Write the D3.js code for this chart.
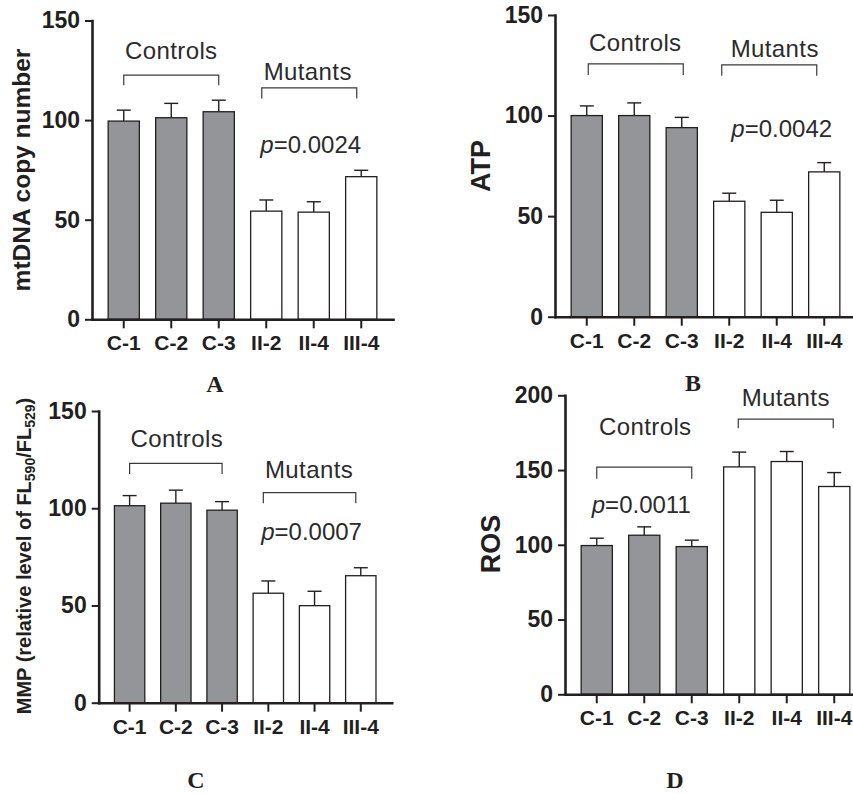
<!DOCTYPE html>
<html>
<head>
<meta charset="utf-8">
<script src="https://cdn.jsdelivr.net/npm/d3@7"></script>
<style>
  body { margin: 0; background: #fff; }
  svg { display: block; }
</style>
</head>
<body>
<div id="chart"></div>
<script>
const width = 853;
const height = 794;

// categories
const groups = ["C-1", "C-2", "C-3", "II-2", "II-4", "III-4"];
const controlGroups = ["C-1", "C-2", "C-3"];

// A: mtDNA copy number (mean, +SD)
const mtdnaMean = [99.5, 101.2, 104.2, 54.3, 53.8, 71.6];
const mtdnaErr  = [5.5, 7.2, 5.8, 5.6, 5.2, 3.2];
// B: ATP
const atpMean = [100, 100, 94, 57.4, 51.9, 72];
const atpErr  = [4.8, 6.3, 5.1, 4.0, 6.0, 4.6];
// C: MMP
const mmpMean = [101.3, 102.6, 99, 56.3, 49.9, 65.3];
const mmpErr  = [5.2, 6.7, 4.4, 6.3, 7.4, 4.1];
// D: ROS
const rosMean = [99.5, 106.4, 98.8, 152.1, 155.7, 139];
const rosErr  = [4.9, 5.6, 4.3, 9.9, 6.7, 9.3];

const pValues = ["0.0024", "0.0042", "0.0007", "0.0011"];

const grayFill = "#939598";
const ink = "#231f20";

const svg = d3.select("#chart").append("svg")
  .attr("width", width)
  .attr("height", height)
  .style("font-family", "Arial, 'Liberation Sans', sans-serif");

// panel layout (pixels) and annotation positions (data units)
const panels = [
  { mean: mtdnaMean, err: mtdnaErr, left: 92, right: 393, bottom: 319.3, top: 20.5, max: 150,
    title: "mtDNA copy number", titleX: 30, titleY: 170, titleSize: 24.5,
    letter: "A", letterX: 215, letterY: 392,
    ctrl: { text: 130.6, top: 122.6, leg: 117.5, dx: 0, tdx: 0 },
    mut:  { text: 120.1, top: 116.2, leg: 110.9, dx: -4.5, tdx: -6 },
    p: { y: 83.3, side: "mut", dx: -3 } },
  { mean: atpMean, err: atpErr, left: 555, right: 856, bottom: 316.7, top: 15, max: 150,
    title: "ATP", titleX: 490, titleY: 166, titleSize: 27,
    letter: "B", letterX: 693, letterY: 391,
    ctrl: { text: 132.3, top: 125.7, leg: 120.2, dx: 1.5, tdx: 1 },
    mut:  { text: 129.3, top: 125.2, leg: 119.8, dx: -7.5, tdx: -2 },
    p: { y: 89.5, side: "mut", dx: 5 } },
  { mean: mmpMean, err: mmpErr, left: 98.7, right: 391.7, bottom: 702.7, top: 411, max: 150,
    title: "MMP", titleX: 31, titleY: 556, titleSize: 20,
    letter: "C", letterX: 196, letterY: 788,
    ctrl: { text: 131.4, top: 123.1, leg: 117.6, dx: 0, tdx: 1 },
    mut:  { text: 115.4, top: 108, leg: 102.6, dx: -5, tdx: -5.5 },
    p: { y: 83.7, side: "mut", dx: -3 } },
  { mean: rosMean, err: rosErr, left: 565, right: 866, bottom: 694.3, top: 395.3, max: 200,
    title: "ROS", titleX: 500, titleY: 544, titleSize: 27,
    letter: "D", letterX: 675, letterY: 788,
    ctrl: { text: 173.6, top: 151.9, leg: 144.1, dx: 0, tdx: 1 },
    mut:  { text: 193, top: 184.1, leg: 178, dx: -1, tdx: -1 },
    p: { y: 121.2, side: "ctrl", dx: -3 } }
];

panels.forEach(function (pn, i) {
  const g = svg.append("g");

  const x = d3.scaleBand()
    .domain(groups)
    .range([pn.left, pn.right])
    .paddingInner(0.343)
    .paddingOuter(0.34);

  const y = d3.scaleLinear()
    .domain([0, pn.max])
    .range([pn.bottom, pn.top]);

  const rows = groups.map(function (k, j) {
    return { name: k, mean: pn.mean[j], err: pn.err[j] };
  });

  // error bars (upper only, drawn before the bars)
  const eb = g.append("g").selectAll("g").data(rows).enter().append("g");
  eb.append("line")
    .attr("x1", d => x(d.name) + x.bandwidth() / 2)
    .attr("x2", d => x(d.name) + x.bandwidth() / 2)
    .attr("y1", d => y(d.mean))
    .attr("y2", d => y(d.mean + d.err))
    .attr("stroke", ink).attr("stroke-width", 1.4);
  eb.append("line")
    .attr("x1", d => x(d.name) + x.bandwidth() / 2 - 7)
    .attr("x2", d => x(d.name) + x.bandwidth() / 2 + 7)
    .attr("y1", d => y(d.mean + d.err))
    .attr("y2", d => y(d.mean + d.err))
    .attr("stroke", ink).attr("stroke-width", 1.4);

  // bars
  g.append("g").selectAll("rect").data(rows).enter().append("rect")
    .attr("x", d => x(d.name))
    .attr("y", d => y(d.mean))
    .attr("width", x.bandwidth())
    .attr("height", d => y(0) - y(d.mean))
    .attr("fill", d => controlGroups.includes(d.name) ? grayFill : "#ffffff")
    .attr("stroke", ink)
    .attr("stroke-width", 1.3);

  // axes
  const yAxis = g.append("g")
    .attr("transform", "translate(" + pn.left + ",0)")
    .call(d3.axisLeft(y).tickValues(d3.range(0, pn.max + 1, 50)).tickSize(7).tickSizeOuter(0).tickPadding(5));
  const xAxis = g.append("g")
    .attr("transform", "translate(0," + pn.bottom + ")")
    .call(d3.axisBottom(x).tickSize(9).tickSizeOuter(0).tickPadding(7));

  [yAxis, xAxis].forEach(function (ax) {
    ax.select(".domain").attr("stroke", ink).attr("stroke-width", 2.6).attr("stroke-linecap", "square");
    ax.selectAll(".tick line").attr("stroke", ink).attr("stroke-width", 2);
    ax.selectAll("text").attr("fill", ink).style("font-weight", "bold")
      .style("font-family", "Arial, 'Liberation Sans', sans-serif");
  });
  yAxis.selectAll("text").style("font-size", "23px");
  xAxis.selectAll("text").style("font-size", "21px");

  // y-axis title
  const t = g.append("text")
    .attr("transform", "translate(" + pn.titleX + "," + pn.titleY + ") rotate(-90)")
    .attr("text-anchor", "middle")
    .attr("fill", ink)
    .style("font-weight", "bold")
    .style("font-size", pn.titleSize + "px");
  if (pn.title === "MMP") {
    t.append("tspan").text("MMP (relative level of FL");
    t.append("tspan").text("590").style("font-size", "14px").attr("dy", 4);
    t.append("tspan").text("/FL").attr("dy", -4);
    t.append("tspan").text("529").style("font-size", "14px").attr("dy", 4);
    t.append("tspan").text(")").attr("dy", -4);
  } else {
    t.text(pn.title);
  }

  // brackets + group labels
  function bracket(cfg, first, last, label) {
    const x1 = x(first) + x.bandwidth() / 2 + cfg.dx;
    const x2 = x(last) + x.bandwidth() / 2 + cfg.dx;
    g.append("path")
      .attr("d", "M" + x1 + "," + y(cfg.leg) + "V" + y(cfg.top) + "H" + x2 + "V" + y(cfg.leg))
      .attr("fill", "none")
      .attr("stroke", "#3a3a3a")
      .attr("stroke-width", 1.2);
    g.append("text")
      .attr("x", (x(first) + x(last) + x.bandwidth()) / 2 + cfg.tdx)
      .attr("y", y(cfg.text))
      .attr("text-anchor", "middle")
      .attr("fill", "#2b2b2b")
      .style("font-size", "24px")
      .style("letter-spacing", "0.4px")
      .text(label);
  }
  bracket(pn.ctrl, "C-1", "C-3", "Controls");
  bracket(pn.mut, "II-2", "III-4", "Mutants");

  // p value
  const pg = pn.p.side === "mut" ? ["II-2", "III-4"] : ["C-1", "C-3"];
  const pt = g.append("text")
    .attr("x", (x(pg[0]) + x(pg[1]) + x.bandwidth()) / 2 + pn.p.dx)
    .attr("y", y(pn.p.y))
    .attr("text-anchor", "middle")
    .attr("fill", "#2b2b2b")
    .style("font-size", "24px");
  pt.append("tspan").style("font-style", "italic").text("p");
  pt.append("tspan").text("=" + pValues[i]);

  // panel letter
  svg.append("text")
    .attr("x", pn.letterX)
    .attr("y", pn.letterY)
    .attr("text-anchor", "middle")
    .attr("fill", ink)
    .style("font-family", "'Times New Roman', 'Liberation Serif', serif")
    .style("font-weight", "bold")
    .style("font-size", "24px")
    .text(pn.letter);
});
</script>
</body>
</html>
